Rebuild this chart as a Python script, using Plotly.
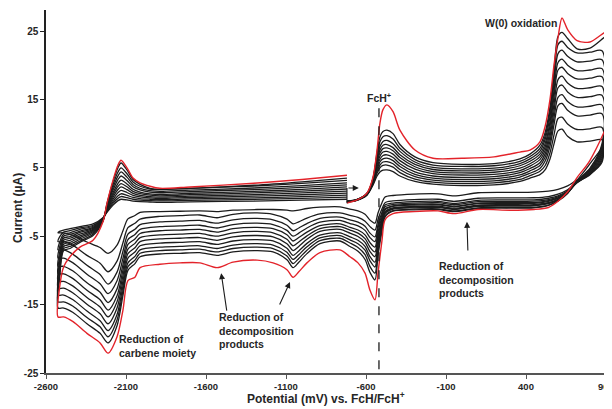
import plotly.graph_objects as go

# ---------------- potential grids (mV) ----------------
forward_mV = [-719, -656, -594, -556, -531, -513, -494, -469, -431, -388, -294, -181, 0, 200,
              362, 425, 487, 519, 550, 575, 600, 625, 660, 719, 800]
switch_mV = 875
switch_ext_mV = 950
reverse_mV = [800, 720, 660, 600, 540, 450, 300, 100, -50, -150, -300, -431, -481, -500, -525,
              -544, -575, -606, -650, -700, -763, -888, -969, -1020, -1056, -1094, -1181, -1281,
              -1431, -1531, -1638, -1763, -1888, -2012, -2044, -2088, -2119, -2156, -2212, -2262,
              -2344, -2431, -2490, -2525]
return_mV = [-2515, -2490, -2450, -2388, -2306, -2244, -2219, -2181, -2150, -2131, -2094, -2056,
             -2012, -1950, -1888, -1700, -1300, -1000, -719]

# ---------------- currents (uA): forward | switch fwd, switch rev | reverse | return ----------------
cycle_01 = [0.0, 0.25, 1.0, 2.5, 3.8, 4.4, 4.65, 4.7, 4.45, 3.8, 3.0, 2.6, 2.4, 2.5, 3.0, 3.5, 4.0, 4.7, 6.3, 8.5, 10.4, 10.65, 9.6, 8.8, 8.9,
            9.1, 5.8,
            4.1, 3.25, 2.35, 1.85, 1.6, 1.45, 1.4, 1.35, 0.9, 1.2, 1.15, 0.95, 0.72, -0.1, -1.6, -3.1, -2.65, -1.8, -1.3, -1.05, -0.7, -0.75, -0.95, -1.2, -1.3, -1.2, -1.1, -1.1, -1.2, -1.4, -1.3, -1.35, -1.4, -1.5, -1.98, -2.46, -4.2, -6.3, -7.5, -6.66, -5.85, -4.89, -4.5, -4.5,
            -4.3, -4.1, -3.9, -3.6, -3.2, -2.3, -1.5, -0.45, 0.2, 0.4, 0.3, 0.13, 0.05, 0.0, -0.05, 0.03, 0.14, 0.26, 0.4]
cycle_02 = [0.0, 0.27, 1.05, 2.6, 4.2, 5.0, 5.35, 5.4, 5.1, 4.3, 3.35, 2.9, 2.7, 2.8, 3.3, 3.85, 4.5, 5.3, 7.2, 9.8, 12.2, 12.4, 11.4, 10.6, 10.7,
            10.9, 6.1,
            4.0, 2.9, 1.8, 1.15, 0.8, 0.62, 0.6, 0.55, 0.1, 0.4, 0.35, 0.15, -0.1, -1.0, -2.55, -4.1, -3.6, -2.8, -2.25, -1.95, -1.6, -1.75, -2.35, -2.9, -3.2, -2.5, -1.8, -1.6, -1.8, -2.3, -1.9, -2.0, -2.1, -2.5, -3.1, -3.75, -5.95, -8.65, -10.2, -8.95, -7.8, -6.35, -5.8, -5.8,
            -5.1, -4.4, -4.2, -3.8, -3.4, -2.35, -1.4, -0.2, 0.55, 0.8, 0.63, 0.4, 0.28, 0.2, 0.15, 0.24, 0.38, 0.53, 0.7]
cycle_03 = [0.02, 0.28, 1.08, 2.7, 4.5, 5.4, 5.85, 5.9, 5.6, 4.75, 3.7, 3.2, 3.0, 3.1, 3.65, 4.2, 4.9, 5.95, 8.15, 11.3, 14.1, 14.4, 13.4, 12.6, 12.7,
            12.9, 6.4,
            4.1, 2.85, 1.65, 0.9, 0.55, 0.32, 0.3, 0.25, -0.2, 0.1, 0.05, -0.15, -0.45, -1.5, -3.3, -5.1, -4.55, -3.55, -2.95, -2.6, -2.2, -2.4, -3.15, -3.8, -4.2, -3.4, -2.6, -2.4, -2.6, -3.1, -2.7, -2.8, -2.9, -3.3, -4.0, -4.7, -7.2, -10.25, -12.0, -10.6, -9.25, -7.65, -7.0, -7.0,
            -5.9, -4.7, -4.5, -4.0, -3.55, -2.4, -1.3, 0.05, 0.9, 1.2, 0.98, 0.66, 0.5, 0.4, 0.33, 0.45, 0.61, 0.79, 1.0]
cycle_04 = [0.03, 0.3, 1.1, 2.8, 4.8, 5.85, 6.3, 6.4, 6.05, 5.2, 4.05, 3.5, 3.3, 3.4, 3.95, 4.55, 5.35, 6.5, 8.9, 12.3, 15.3, 15.7, 14.7, 13.9, 14.0,
            14.2, 6.7,
            4.2, 2.85, 1.55, 0.75, 0.35, 0.12, 0.1, 0.05, -0.4, -0.1, -0.15, -0.35, -0.7, -1.85, -3.8, -5.8, -5.2, -4.15, -3.5, -3.15, -2.7, -2.95, -3.8, -4.55, -5.0, -4.15, -3.3, -3.1, -3.3, -3.8, -3.4, -3.5, -3.6, -4.0, -4.75, -5.5, -8.25, -11.5, -13.4, -11.95, -10.55, -8.9, -8.2, -8.2,
            -6.6, -5.0, -4.75, -4.25, -3.7, -2.45, -1.2, 0.37, 1.37, 1.7, 1.39, 0.96, 0.74, 0.6, 0.52, 0.66, 0.85, 1.06, 1.3]
cycle_05 = [0.05, 0.31, 1.12, 2.9, 5.1, 6.25, 6.8, 6.9, 6.5, 5.6, 4.4, 3.8, 3.6, 3.7, 4.3, 4.9, 5.75, 7.0, 9.6, 13.3, 16.7, 17.1, 16.1, 15.3, 15.4,
            15.6, 7.0,
            4.3, 2.9, 1.45, 0.6, 0.2, -0.08, -0.1, -0.15, -0.6, -0.3, -0.35, -0.55, -1.0, -2.2, -4.4, -6.6, -5.95, -4.8, -4.1, -3.7, -3.2, -3.45, -4.4, -5.2, -5.7, -4.8, -3.9, -3.7, -3.9, -4.4, -4.0, -4.1, -4.2, -4.6, -5.4, -6.2, -9.15, -12.7, -14.7, -13.2, -11.8, -10.1, -9.4, -9.4,
            -7.4, -5.3, -5.05, -4.45, -3.85, -2.5, -1.1, 0.7, 1.82, 2.2, 1.81, 1.26, 0.98, 0.8, 0.7, 0.86, 1.08, 1.32, 1.6]
cycle_06 = [0.06, 0.32, 1.15, 3.0, 5.4, 6.7, 7.3, 7.4, 7.0, 6.05, 4.8, 4.15, 3.95, 4.05, 4.6, 5.25, 6.2, 7.5, 10.3, 14.3, 17.9, 18.4, 17.4, 16.6, 16.7,
            16.9, 7.3,
            4.45, 2.95, 1.45, 0.55, 0.1, -0.18, -0.2, -0.25, -0.7, -0.4, -0.45, -0.65, -1.15, -2.5, -4.9, -7.3, -6.6, -5.35, -4.55, -4.1, -3.6, -3.9, -4.95, -5.85, -6.4, -5.45, -4.5, -4.3, -4.5, -5.0, -4.6, -4.7, -4.8, -5.2, -6.05, -6.9, -9.95, -13.7, -15.8, -14.3, -12.9, -11.2, -10.5, -10.5,
            -8.1, -5.6, -5.3, -4.7, -4.0, -2.55, -0.97, 1.02, 2.28, 2.7, 2.22, 1.56, 1.22, 1.0, 0.9, 1.07, 1.32, 1.59, 1.9]
cycle_07 = [0.08, 0.33, 1.18, 3.1, 5.8, 7.15, 7.8, 7.9, 7.5, 6.5, 5.15, 4.45, 4.25, 4.35, 4.95, 5.6, 6.6, 8.0, 11.1, 15.4, 19.3, 19.7, 18.8, 18.0, 18.1,
            18.3, 7.6,
            4.55, 2.95, 1.35, 0.4, -0.1, -0.38, -0.4, -0.45, -0.9, -0.6, -0.65, -0.85, -1.4, -2.85, -5.45, -8.0, -7.25, -5.9, -5.05, -4.55, -4.0, -4.3, -5.45, -6.5, -7.1, -6.1, -5.1, -4.9, -5.1, -5.6, -5.2, -5.3, -5.4, -5.8, -6.7, -7.55, -10.75, -14.6, -16.8, -15.35, -13.95, -12.3, -11.6, -11.6,
            -8.8, -5.9, -5.6, -4.95, -4.15, -2.6, -0.86, 1.34, 2.74, 3.2, 2.64, 1.86, 1.46, 1.2, 1.1, 1.28, 1.55, 1.85, 2.2]
cycle_08 = [0.09, 0.34, 1.2, 3.2, 6.1, 7.6, 8.3, 8.4, 7.95, 6.9, 5.5, 4.75, 4.55, 4.65, 5.3, 5.95, 7.0, 8.5, 11.7, 16.3, 20.4, 20.9, 20.0, 19.2, 19.3,
            19.5, 7.9,
            4.7, 3.05, 1.35, 0.35, -0.15, -0.48, -0.5, -0.55, -1.0, -0.7, -0.75, -0.95, -1.55, -3.15, -6.0, -8.8, -8.0, -6.5, -5.6, -5.1, -4.5, -4.85, -6.05, -7.15, -7.8, -6.75, -5.7, -5.5, -5.7, -6.2, -5.8, -5.9, -6.0, -6.4, -7.3, -8.2, -11.55, -15.5, -17.8, -16.35, -14.95, -13.3, -12.6, -12.6,
            -9.4, -6.2, -5.9, -5.2, -4.3, -2.65, -0.71, 1.74, 3.28, 3.8, 3.14, 2.23, 1.76, 1.45, 1.35, 1.53, 1.82, 2.13, 2.5]
cycle_09 = [0.1, 0.35, 1.22, 3.3, 6.5, 8.1, 8.85, 9.0, 8.5, 7.4, 5.85, 5.05, 4.85, 4.95, 5.6, 6.3, 7.4, 9.1, 12.5, 17.3, 21.7, 22.2, 21.3, 20.5, 20.6,
            20.8, 8.2,
            4.85, 3.1, 1.35, 0.3, -0.25, -0.58, -0.6, -0.65, -1.1, -0.8, -0.85, -1.05, -1.7, -3.45, -6.45, -9.5, -8.6, -7.05, -6.1, -5.55, -4.9, -5.25, -6.55, -7.7, -8.4, -7.35, -6.3, -6.1, -6.3, -6.8, -6.4, -6.5, -6.6, -7.0, -7.95, -8.9, -12.3, -16.45, -18.8, -17.35, -15.95, -14.3, -13.6, -13.6,
            -10.0, -6.5, -6.2, -5.45, -4.5, -2.7, -0.57, 2.13, 3.83, 4.4, 3.63, 2.56, 2.01, 1.65, 1.55, 1.74, 2.05, 2.4, 2.8]
cycle_10 = [0.12, 0.36, 1.25, 3.4, 6.9, 8.8, 9.55, 9.7, 9.2, 7.85, 6.2, 5.4, 5.2, 5.3, 5.95, 6.65, 7.85, 9.6, 13.2, 18.3, 23.0, 23.5, 22.6, 21.8, 21.9,
            22.1, 8.5,
            4.95, 3.1, 1.25, 0.15, -0.45, -0.78, -0.8, -0.85, -1.3, -1.0, -1.05, -1.25, -2.0, -3.85, -7.15, -10.4, -9.45, -7.7, -6.65, -6.0, -5.3, -5.65, -7.05, -8.25, -9.0, -7.9, -6.8, -6.6, -6.8, -7.3, -6.9, -7.0, -7.1, -7.5, -8.5, -9.45, -13.0, -17.25, -19.7, -18.25, -16.9, -15.25, -14.6, -14.6,
            -10.6, -6.8, -6.5, -5.7, -4.7, -2.75, -0.42, 2.52, 4.38, 5.0, 4.13, 2.92, 2.3, 1.9, 1.8, 2.0, 2.34, 2.71, 3.15]
cycle_11 = [0.13, 0.37, 1.28, 3.5, 7.3, 9.5, 10.3, 10.5, 10.0, 8.4, 6.6, 5.75, 5.5, 5.6, 6.3, 7.0, 8.3, 10.1, 13.9, 19.3, 24.2, 24.8, 23.9, 22.4, 22.5,
            24.8, 11.0,
            5.6, 3.2, 1.6, 0.2, -0.5, -0.85, -0.9, -0.95, -1.4, -1.1, -1.15, -1.35, -2.2, -4.25, -7.8, -11.4, -10.3, -8.4, -7.2, -6.5, -5.7, -6.1, -7.55, -8.8, -9.6, -8.45, -7.3, -7.1, -7.3, -7.8, -7.4, -7.5, -7.6, -8.0, -9.0, -10.0, -13.65, -18.1, -20.6, -19.2, -17.8, -16.15, -15.5, -15.5,
            -11.2, -7.1, -6.8, -5.9, -4.9, -2.8, -0.25, 2.98, 5.02, 5.7, 4.69, 3.29, 2.57, 2.0, 1.85, 2.0, 2.45, 2.95, 3.5]
cycle_12_red = [-0.15, 0.3, 1.3, 3.65, 7.6, 11.5, 13.5, 14.2, 13.2, 10.5, 7.6, 6.4, 6.4, 6.6, 7.3, 7.6, 8.8, 11.0, 15.0, 20.0, 24.0, 26.9, 25.2, 23.6, 23.4,
                25.4, 14.3,
                6.1, 3.6, 1.5, 0.1, -0.8, -1.1, -1.2, -1.1, -1.7, -1.3, -1.4, -1.7, -2.6, -5.6, -10.4, -14.3, -12.9, -10.4, -8.9, -8.0, -7.0, -7.4, -8.9, -10.2, -11.0, -9.9, -8.9, -8.5, -8.8, -9.6, -8.9, -8.9, -9.1, -9.6, -11.0, -11.5, -15.8, -19.7, -22.1, -20.6, -19.2, -17.5, -16.8, -16.8,
                -12.5, -9.5, -8.0, -6.6, -5.6, -2.9, -0.2, 3.2, 5.4, 6.1, 5.0, 3.5, 2.8, 2.3, 2.0, 2.2, 2.75, 3.3, 3.9]

x_ticks = [-2600, -2100, -1600, -1100, -600, -100, 400, 900]
y_ticks = [-25, -15, -5, 5, 15, 25]

potential_mV = forward_mV + [switch_mV, switch_mV] + reverse_mV + return_mV
potential_ext_mV = forward_mV + [switch_ext_mV, switch_ext_mV] + reverse_mV + return_mV

black_cycles = [cycle_01, cycle_02, cycle_03, cycle_04, cycle_05, cycle_06,
                cycle_07, cycle_08, cycle_09, cycle_10]

FONT = "Liberation Sans, Arial, sans-serif"
TXT = "#262626"

fig = go.Figure()
for cyc in black_cycles:
    fig.add_trace(go.Scatter(x=potential_mV, y=cyc, mode="lines",
                             line=dict(color="#1c1c1c", width=1.3, shape="spline", smoothing=0.8),
                             hoverinfo="skip", showlegend=False))
fig.add_trace(go.Scatter(x=potential_ext_mV, y=cycle_11, mode="lines",
                         line=dict(color="#1c1c1c", width=1.3, shape="spline", smoothing=0.8),
                         hoverinfo="skip", showlegend=False))
fig.add_trace(go.Scatter(x=potential_ext_mV, y=cycle_12_red, mode="lines",
                         line=dict(color="#e3232a", width=1.4, shape="spline", smoothing=0.8),
                         hoverinfo="skip", showlegend=False))

# dashed FcH+ reference line
fig.add_shape(type="line", x0=-519, x1=-519, y0=13.7, y1=-24.6, xref="x", yref="y",
              line=dict(color="#1c1c1c", width=1.3, dash="dash"))
# scan-start elbow
fig.add_shape(type="line", x0=-719, x1=-719, y0=-0.2, y1=2.05, xref="x", yref="y",
              line=dict(color="#1c1c1c", width=1.1))

def arrow(x, y, ax, ay):
    fig.add_annotation(x=x, y=y, ax=ax, ay=ay, xref="x", yref="y", axref="x", ayref="y",
                       text="", showarrow=True, arrowhead=2, arrowsize=1.1, arrowwidth=1.1,
                       arrowcolor="#1c1c1c")

arrow(-645, 2.05, -719, 2.05)
arrow(-1505, -10.4, -1469, -16.1)
arrow(-1075, -11.7, -1144, -15.2)
arrow(31, -2.9, 37, -7.3)

def label(x, y, text, xanchor="left"):
    fig.add_annotation(x=x, y=y, xref="x", yref="y", text=text, showarrow=False,
                       xanchor=xanchor, yanchor="middle", align="left",
                       font=dict(family=FONT, size=10.5, color=TXT, weight="bold"))

label(-2156, -21.0, "Reduction of<br>carbene moiety")
label(-1531, -18.8, "Reduction of<br>decomposition<br>products")
label(-156, -11.3, "Reduction of<br>decomposition<br>products")
label(131, 26.2, "W(0) oxidation")
label(-520, 15.35, "FcH<sup>+</sup>", xanchor="center")

# axis titles
fig.add_annotation(x=0.495, y=-0.068, xref="paper", yref="paper", showarrow=False,
                   text="Potential (mV) vs. FcH/FcH<sup>+</sup>", xanchor="center", yanchor="middle",
                   font=dict(family=FONT, size=12, color=TXT, weight="bold"))
fig.add_annotation(x=-0.049, y=0.455, xref="paper", yref="paper", showarrow=False,
                   text="Current (µA)", textangle=-90, xanchor="center", yanchor="middle",
                   font=dict(family=FONT, size=12, color=TXT, weight="bold"))

# the page body adds an 8 px offset, so the figure is 8 px smaller in each direction
fig.update_layout(
    width=604, height=401, template="none",
    margin=dict(l=38, r=0, t=2, b=36, autoexpand=False),
    paper_bgcolor="white", plot_bgcolor="white",
    showlegend=False,
    xaxis=dict(range=[-2600, 937.5], tickvals=x_ticks, ticktext=[str(v) for v in x_ticks],
               ticks="outside", ticklen=4, tickwidth=1.3, tickcolor="#555555",
               showline=True, linecolor="#555555", linewidth=2, showgrid=False, zeroline=False,
               automargin=False, ticklabeloverflow="allow",
               tickfont=dict(family=FONT, size=9.5, color=TXT, weight="bold")),
    yaxis=dict(range=[-25, 28.07], tickvals=y_ticks, ticktext=[str(v) for v in y_ticks],
               ticks="outside", ticklen=4, tickwidth=1.3, tickcolor="#222222",
               showline=True, linecolor="#222222", linewidth=1.5, showgrid=False, zeroline=False,
               automargin=False,
               tickfont=dict(family=FONT, size=10, color=TXT, weight="bold")),
)

fig.write_html("out.html")
